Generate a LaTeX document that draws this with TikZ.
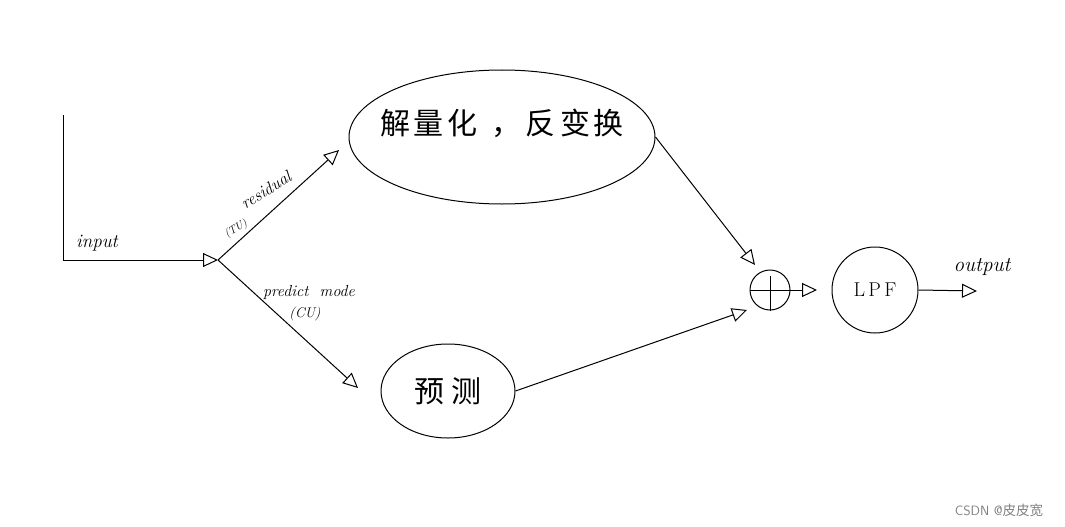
\documentclass[tikz,border=0pt]{standalone}
\usepackage{fontspec}
\newfontfamily\cjk{Noto Sans CJK SC}
\usetikzlibrary{arrows.meta,shapes.geometric}

\begin{document}
\begin{tikzpicture}[x=1pt,y=-1pt,line width=1pt,
    tip/.style={-{Triangle[open,length=15pt,width=14pt,line width=1pt]}},
    hand/.style={font=\itshape\fontsize{#1}{#1}\selectfont}]

          \useasboundingbox (0,0) rectangle (1065,527);

          \coordinate (in) at (63,115);
          \coordinate (split) at (218,260);
          \coordinate (restip) at (339,150);
          \coordinate (predtip) at (358,388);

          \node[draw,ellipse,minimum width=306pt,minimum height=134pt,inner sep=0pt,
            label={[yshift=14pt,font=\cjk\fontsize{30}{30}\selectfont]center:解\hspace{4pt}量\hspace{4pt}化\hspace{14pt}，\hspace{4pt}反\hspace{4pt}变\hspace{4pt}换}]
            (deq) at (502,137) {};
          \node[draw,ellipse,minimum width=134pt,minimum height=94pt,inner sep=0pt,
            font=\cjk\fontsize{30}{30}\selectfont] (pred) at (448,391) {预\hspace{8pt}测};

          \node[draw,circle,minimum size=40pt,inner sep=0pt] (plus) at (770,290) {};
          \draw (plus.west)--(plus.east);
          \draw ([yshift=14pt]plus.center)--(plus.south);

          \node[draw,circle,minimum size=86pt,inner sep=0pt,
            font=\fontsize{20}{20}\selectfont] (lpf) at (875,290) {L\,P\,F};
          \coordinate (plustip) at (817,290);
          \coordinate (outtip) at (977,291);
          \coordinate (sumtop) at (755,265);
          \coordinate (sumbot) at (747,310);

          \draw[tip] (in) |- (split);
          \draw[tip] (split) -- (restip);
          \draw[tip] (split) -- (predtip);
          \draw[tip] (deq.east) -- (sumtop);
          \draw[tip] (pred.east) -- (sumbot);
          \draw[tip] (plus.east) -- (plustip);
          \draw[tip] (lpf.east) -- (outtip);

          \node[hand=19] (inlbl) at (97,243) {input};
          \node[hand=17,rotate=32] (reslbl) at (266,190) {residual};
          \node[hand=11,rotate=32] (tulbl) at (236,229) {(TU)};
          \node[hand=16] (pmlbl) at (309,292) {predict\ \ mode};
          \node[hand=14] (culbl) at (305,314) {(CU)};
          \node[hand=21] (outlbl) at (982,267) {output};

          \node[gray,font=\sffamily\fontsize{13.5}{13.5}\selectfont] (mark) at (999,510)
            {CSDN @{\cjk 皮皮宽}};
\end{tikzpicture}
\end{document}
